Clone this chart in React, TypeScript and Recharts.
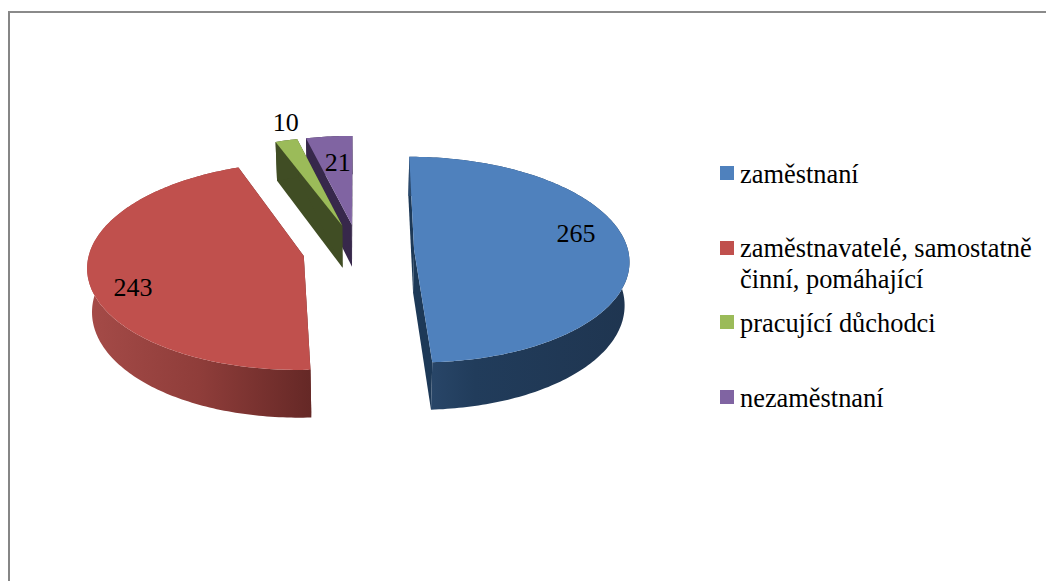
import { Pie, PieChart } from 'recharts';

const CATEGORIES = ['zaměstnaní', 'zaměstnavatelé, samostatně činní, pomáhající', 'pracující důchodci', 'nezaměstnaní'];
const VALUES = [265, 243, 10, 21];
const TOP_COLORS = ['#4f81bd', '#c0504d', '#9bbb59', '#8064a2'];
const CUT_COLORS = ['#1d3957', '#632523', '#404d24', '#37284b'];
const LEGEND_TOPS = [159, 233, 308, 383];
const LEGEND_SQUARES = [166, 241, 315, 390];
// label placement relative to the slice: angle shift (deg) and fraction of the radius
const LABEL_SHIFT = [-10.5, -9.5, 2.7, 0.9];
const LABEL_RADIUS = [0.79, 0.82, 1.22, 0.69];

const WIDTH = 1046;
const HEIGHT = 581;
const CX = 358.5;
const CY = 250.5;
const RADIUS = 214;
const FIRST_ANGLE = 0;
const EXPLODE = 0.26;
const DEPTH = 43;
const PERSPECTIVE = 0.095;
const TILT = 102;
const BOTTOM_SHRINK = 0.018;
const FONT = '"Liberation Serif", serif';

// drawn back to front, so the list runs counter-clockwise from the top
const rows = CATEGORIES.map((name, i) => ({
  name,
  value: VALUES[i],
  index: i,
  fill: TOP_COLORS[i],
})).reverse();

const rad = (deg: number) => (deg * Math.PI) / 180;

// ground plane to screen: x to the right, w towards the back, both in radii
function project(cx: number, cy: number, r: number, x: number, w: number, drop = 0) {
  const s = 1 / (1 + PERSPECTIVE * w);
  const shrink = drop ? 1 - BOTTOM_SHRINK : 1;
  return [cx + x * s * r * shrink, cy - w * TILT * s + drop * s];
}

function slicePoint(cx: number, cy: number, r: number, mid: number, angle: number, f: number, drop = 0) {
  const x = EXPLODE * Math.sin(rad(mid)) + f * Math.sin(rad(angle));
  const w = EXPLODE * Math.cos(rad(mid)) + f * Math.cos(rad(angle));
  return project(cx, cy, r, x, w, drop);
}

const toPath = (pts: number[][]) =>
  pts.map((p, i) => `${i ? 'L' : 'M'}${p[0].toFixed(2)} ${p[1].toFixed(2)}`).join(' ') + ' Z';

function Slice3D(props: any) {
  const { cx, cy, outerRadius, startAngle, endAngle, payload, fill } = props;
  const a0 = 90 - Math.max(startAngle, endAngle);
  const a1 = 90 - Math.min(startAngle, endAngle);
  const mid = (a0 + a1) / 2;
  const i = payload?.index ?? 0;
  const top = (a: number, f: number) => slicePoint(cx, cy, outerRadius, mid, a, f);
  const low = (a: number, f: number) => slicePoint(cx, cy, outerRadius, mid, a, f, DEPTH);

  const arc: number[] = [];
  const steps = Math.max(2, Math.ceil(a1 - a0));
  for (let k = 0; k <= steps; k++) arc.push(a0 + ((a1 - a0) * k) / steps);

  const topFace = [top(a0, 0), ...arc.map((a) => top(a, 1))];
  const outer = [...arc.map((a) => top(a, 1)), ...[...arc].reverse().map((a) => low(a, 1))];
  const cutA = [top(a0, 0), top(a0, 1), low(a0, 1), low(a0, 0)];
  const cutB = [top(a1, 0), top(a1, 1), low(a1, 1), low(a1, 0)];

  return (
    <g>
      <path d={toPath(cutA)} fill={CUT_COLORS[i]} />
      <path d={toPath(cutB)} fill={CUT_COLORS[i]} />
      <path d={toPath(outer)} fill={i < 2 ? `url(#side${i})` : CUT_COLORS[i]} />
      <path d={toPath(topFace)} fill={fill} />
    </g>
  );
}

function SliceLabel(props: any) {
  const { cx, cy, outerRadius, midAngle, payload } = props;
  const row = payload?.index !== undefined ? payload : props;
  const i = row.index;
  const mid = 90 - midAngle;
  const [x, y] = slicePoint(cx, cy, outerRadius, mid, mid + LABEL_SHIFT[i], LABEL_RADIUS[i]);
  return (
    <text x={x} y={y} textAnchor="middle" dominantBaseline="central" fontFamily={FONT} fontSize={26} fill="#000">
      {row.value}
    </text>
  );
}

function LegendBlock() {
  return (
    <div style={{ position: 'absolute', left: 720, top: 0, width: 326, fontFamily: FONT, fontSize: 26.4, lineHeight: '31px', color: '#000' }}>
      {CATEGORIES.map((name, i) => (
        <div key={name}>
          <span style={{ position: 'absolute', left: 0, top: LEGEND_SQUARES[i], width: 14, height: 14, background: TOP_COLORS[i] }} />
          <div style={{ position: 'absolute', top: LEGEND_TOPS[i], left: 20, width: 306 }}>{name}</div>
        </div>
      ))}
    </div>
  );
}

export default function App() {
  return (
    <div style={{ position: 'absolute', left: 0, top: 0, width: WIDTH, height: HEIGHT, overflow: 'hidden', background: '#fff' }}>
      <div style={{ position: 'absolute', left: 8, top: 11, width: WIDTH, height: HEIGHT, borderLeft: '2px solid #868686', borderTop: '2px solid #8a8a8a' }} />
      <PieChart width={WIDTH} height={HEIGHT} margin={{ top: 0, right: 0, bottom: 0, left: 0 }} style={{ position: 'absolute', left: 0, top: 0 }}>
        <defs>
          <linearGradient id="side0" x1="0" y1="0" x2="1" y2="0">
            <stop offset="0" stopColor="#2c4b6f" />
            <stop offset="0.3" stopColor="#213c5b" />
            <stop offset="1" stopColor="#1f3550" />
          </linearGradient>
          <linearGradient id="side1" x1="0" y1="0" x2="1" y2="0">
            <stop offset="0" stopColor="#a54b48" />
            <stop offset="0.5" stopColor="#8f3d3a" />
            <stop offset="1" stopColor="#652826" />
          </linearGradient>
        </defs>
        <Pie
          data={rows}
          dataKey="value"
          nameKey="name"
          cx={CX}
          cy={CY}
          innerRadius={0}
          outerRadius={RADIUS}
          startAngle={90 - FIRST_ANGLE}
          endAngle={450 - FIRST_ANGLE}
          stroke="none"
          shape={Slice3D}
          label={SliceLabel}
          labelLine={false}
          isAnimationActive={false}
        />
      </PieChart>
      <LegendBlock />
    </div>
  );
}
